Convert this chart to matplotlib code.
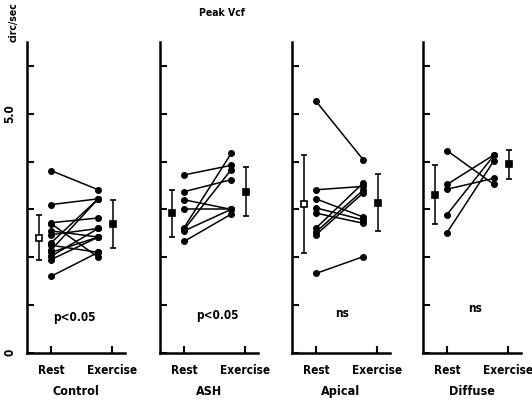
import matplotlib.pyplot as plt

# values (circ/sec)
groups = ['Control', 'ASH', 'Apical', 'Diffuse']
p_labels = ['p<0.05', 'p<0.05', 'ns', 'ns']
x_labels = ['Rest', 'Exercise']

control_rest = [3.81, 3.10, 2.72, 2.70, 2.55, 2.47, 2.30, 2.25, 2.15, 2.10, 2.02, 1.95, 1.60]
control_ex = [3.41, 3.22, 2.82, 2.00, 2.42, 2.60, 3.22, 2.10, 3.22, 2.42, 2.60, 2.42, 2.10]

ash_rest = [3.72, 3.37, 3.20, 3.00, 2.62, 2.58, 2.55, 2.33]
ash_ex = [3.92, 3.62, 3.00, 3.00, 4.17, 3.83, 3.00, 2.90]

apical_rest = [5.26, 3.41, 3.22, 3.03, 2.92, 2.61, 2.53, 2.47, 1.66]
apical_ex = [4.04, 3.48, 2.84, 2.78, 2.71, 3.55, 3.40, 3.34, 2.01]

diffuse_rest = [4.23, 3.52, 3.42, 2.89, 2.51]
diffuse_ex = [3.52, 4.14, 3.65, 4.13, 4.02]

mean_rest = [2.41, 2.92, 3.11, 3.31]
sd_rest = [0.47, 0.49, 1.03, 0.61]
mean_ex = [2.70, 3.37, 3.14, 3.94]
sd_ex = [0.50, 0.51, 0.60, 0.31]
open_rest = [True, False, True, False]

rest_data = [control_rest, ash_rest, apical_rest, diffuse_rest]
ex_data = [control_ex, ash_ex, apical_ex, diffuse_ex]

# layout of each panel and its p-value label
lefts = [0.051, 0.301, 0.549, 0.795]
p_pos = [(0.49, 0.73), (0.70, 0.79), (0.55, 0.83), (0.60, 0.93)]

plt.rcParams['font.family'] = 'DejaVu Sans'
plt.rcParams['font.stretch'] = 'condensed'
plt.rcParams['font.weight'] = 'bold'

fig = plt.figure(figsize=(5.32, 4.0), dpi=100)

for i, name in enumerate(groups):
    ax = fig.add_axes([lefts[i], 0.118, 0.184, 0.777])
    for r, e in zip(rest_data[i], ex_data[i]):
        ax.plot([0, 1], [r, e], color='black', lw=1.1,
                marker='o', markersize=4.0)
    ax.errorbar(-0.25, mean_rest[i], yerr=sd_rest[i], fmt='s',
                color='black', ms=5, lw=1.1, capsize=2.5,
                mfc='white' if open_rest[i] else 'black', mew=1.2)
    ax.errorbar(1.32, mean_ex[i], yerr=sd_ex[i], fmt='s',
                color='black', ms=5, lw=1.1, capsize=2.5, mew=1.2)
    ax.text(p_pos[i][0], p_pos[i][1], p_labels[i], ha='center',
            va='center', fontsize=8.5, fontweight='bold')
    ax.set_xlim(-0.51, 1.57)
    ax.set_ylim(0, 6.5)
    ax.spines['top'].set_visible(False)
    ax.spines['right'].set_visible(False)
    ax.spines['left'].set_linewidth(1.8)
    ax.spines['bottom'].set_linewidth(1.8)
    ax.set_xticks([0, 1.3])
    ax.set_xticklabels(x_labels, fontsize=8.5, fontweight='bold')
    ax.set_yticks([0, 1, 2, 3, 4, 5, 6])
    ax.tick_params(axis='both', direction='in', length=5, width=1.5, pad=8)
    if i == 0:
        ax.set_yticklabels(['0', '', '', '', '', '5.0', ''],
                           rotation=90, va='center', fontsize=8.5,
                           fontweight='bold')
    else:
        ax.set_yticklabels([])
    ax.set_xlabel(name, fontsize=9, fontweight='bold', labelpad=6)

fig.text(0.026, 0.945, 'circ/sec', rotation=90, ha='center', va='center',
         fontsize=7.5, fontweight='bold')
fig.text(0.418, 0.968, 'Peak Vcf', ha='center', va='center',
         fontsize=7.5, fontweight='bold')

fig.savefig('out.png', dpi=100)
